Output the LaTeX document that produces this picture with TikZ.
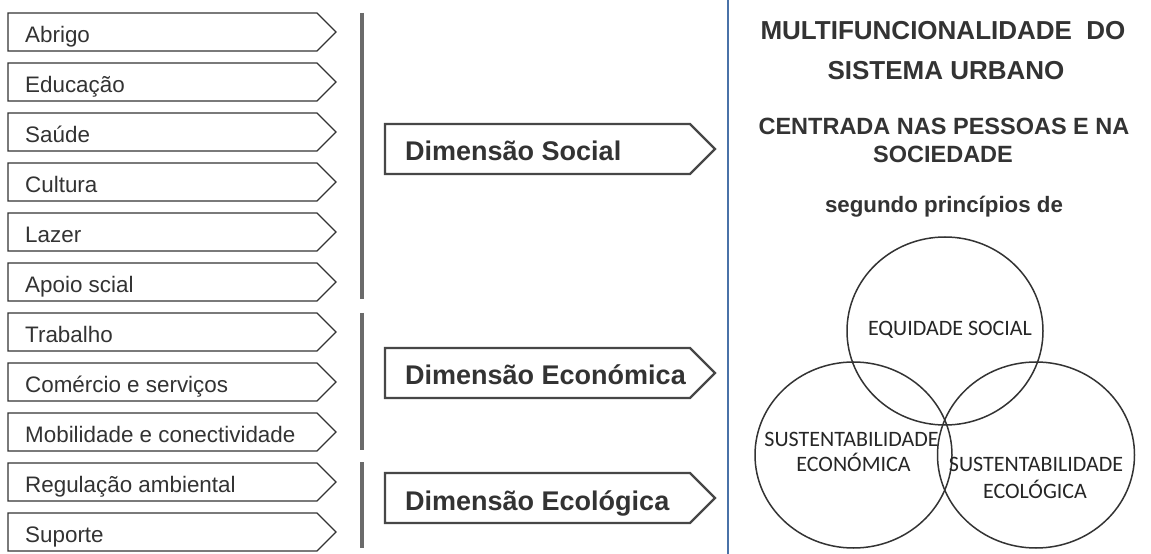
\documentclass[tikz,border=0pt]{standalone}
\usepackage{fontspec}
\setmainfont{Liberation Sans}
\newfontfamily\circlefont{Carlito}
\usetikzlibrary{shapes.geometric}
\definecolor{ink}{HTML}{333333}
\definecolor{stroke}{HTML}{333333}
\definecolor{bargray}{HTML}{6B6B6B}
\definecolor{divider}{HTML}{4A72A8}
\begin{document}
\begin{tikzpicture}[x=1bp,y=-1bp,
  itembox/.style={draw=stroke,line width=1.4bp,fill=white,line join=miter},
  itemtext/.style={anchor=base west,inner sep=0pt,text=ink,font=\fontsize{22.4bp}{25bp}\selectfont},
  dimbox/.style={draw=stroke!90!white,line width=2.4bp,fill=white,line join=miter},
  dimtext/.style={anchor=base west,inner sep=0pt,text=ink,font=\fontsize{27bp}{30bp}\selectfont\bfseries},
  groupbar/.style={draw=bargray,line width=4.5bp},
  headtext/.style={anchor=base,inner sep=0pt,text=ink,font=\bfseries},
  venn/.style={draw=stroke,line width=1.5bp,ellipse,inner sep=0pt},
  venntext/.style={anchor=base,inner sep=0pt,text=black!85,font=\circlefont\fontsize{22bp}{24bp}\selectfont}]
\useasboundingbox (0,0) rectangle (1151,554);
\fill[white] (0,0) rectangle (1151,554);

% functions of the urban system
\foreach \txt [count=\i from 0] in {Abrigo,Educação,Saúde,Cultura,Lazer,Apoio scial,Trabalho,Comércio e serviços,Mobilidade e conectividade,Regulação ambiental,Suporte}{
  \pgfmathsetmacro{\t}{13+50*\i}
  \draw[itembox] (8,\t) -- (317,\t) -- (336,{\t+19}) -- (317,{\t+38}) -- (8,{\t+38}) -- cycle;
  \node[itemtext] (item\i) at (25,{\t+29.5}) {\txt};
}

% grouping bars
\draw[groupbar] (362,13) -- (362,299);
\draw[groupbar] (362,313) -- (362,450);
\draw[groupbar] (362,462) -- (362,548);

% dimensions
\foreach \txt/\t/\nm in {Dimensão Social/124/social,Dimensão Económica/348/economic,Dimensão Ecológica/473/ecologic}{
  \draw[dimbox] (385,\t) -- (690,\t) -- (715,{\t+25}) -- (690,{\t+50}) -- (385,{\t+50}) -- cycle;
  \node[dimtext] (dim-\nm) at (405,{\t+37}) {\txt};
}

% divider
\draw[divider,line width=2bp] (728,0) -- (728,554);

% heading
\node[headtext,font=\fontsize{26bp}{30bp}\selectfont\bfseries] (head1) at (943,39.5) {MULTIFUNCIONALIDADE\ \ DO};
\node[headtext,font=\fontsize{26bp}{30bp}\selectfont\bfseries] (head2) at (946,80) {SISTEMA URBANO};
\node[headtext,font=\fontsize{23.5bp}{27bp}\selectfont\bfseries] (head3) at (944,135) {CENTRADA NAS PESSOAS E NA};
\node[headtext,font=\fontsize{23.5bp}{27bp}\selectfont\bfseries] (head4) at (943,163) {SOCIEDADE};
\node[headtext,font=\fontsize{22.3bp}{26bp}\selectfont\bfseries] (head5) at (944,213) {segundo princípios de};

% principles
\node[venn,minimum width=196bp,minimum height=188bp] (c-social) at (945,331) {};
\node[venn,minimum width=197bp,minimum height=186bp] (c-economic) at (853.5,455) {};
\node[venn,minimum width=197bp,minimum height=186bp] (c-ecologic) at (1036,455) {};

\node[venntext] (l-social) at (950,336) {EQUIDADE SOCIAL};
\node[venntext] (l-econ1) at (851.5,446.5) {SUSTENTABILIDADE};
\node[venntext] (l-econ2) at (853.5,471.5) {ECONÓMICA};
\node[venntext] (l-eco1) at (1036,471.5) {SUSTENTABILIDADE};
\node[venntext] (l-eco2) at (1035,498) {ECOLÓGICA};
\end{tikzpicture}
\end{document}
